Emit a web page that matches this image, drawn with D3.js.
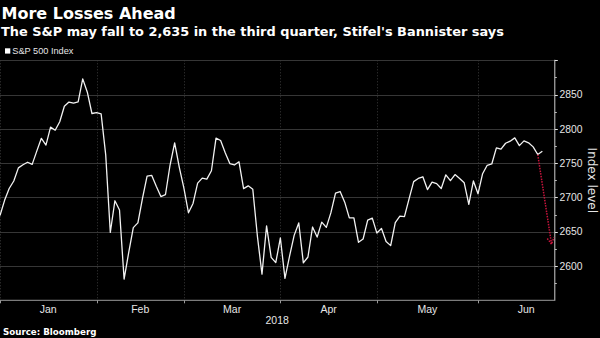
<!DOCTYPE html>
<html><head><meta charset="utf-8">
<script src="https://cdn.jsdelivr.net/npm/d3@7"></script>
<style>html,body{margin:0;padding:0;background:#000;overflow:hidden}</style>
</head><body>
<svg id="chart" width="600" height="338"></svg>
<script>
// ---- data (S&P 500 daily closes, trading days) ----
const dates = [
 "2017-12-29",
 "2018-01-02","2018-01-03","2018-01-04","2018-01-05","2018-01-08","2018-01-09","2018-01-10","2018-01-11","2018-01-12",
 "2018-01-16","2018-01-17","2018-01-18","2018-01-19","2018-01-22","2018-01-23","2018-01-24","2018-01-25","2018-01-26",
 "2018-01-29","2018-01-30","2018-01-31",
 "2018-02-01","2018-02-02","2018-02-05","2018-02-06","2018-02-07","2018-02-08","2018-02-09","2018-02-12","2018-02-13",
 "2018-02-14","2018-02-15","2018-02-16","2018-02-20","2018-02-21","2018-02-22","2018-02-23","2018-02-26","2018-02-27","2018-02-28",
 "2018-03-01","2018-03-02","2018-03-05","2018-03-06","2018-03-07","2018-03-08","2018-03-09","2018-03-12","2018-03-13",
 "2018-03-14","2018-03-15","2018-03-16","2018-03-19","2018-03-20","2018-03-21","2018-03-22","2018-03-23","2018-03-26",
 "2018-03-27","2018-03-28","2018-03-29",
 "2018-04-02","2018-04-03","2018-04-04","2018-04-05","2018-04-06","2018-04-09","2018-04-10","2018-04-11","2018-04-12",
 "2018-04-13","2018-04-16","2018-04-17","2018-04-18","2018-04-19","2018-04-20","2018-04-23","2018-04-24","2018-04-25",
 "2018-04-26","2018-04-27","2018-04-30",
 "2018-05-01","2018-05-02","2018-05-03","2018-05-04","2018-05-07","2018-05-08","2018-05-09","2018-05-10","2018-05-11",
 "2018-05-14","2018-05-15","2018-05-16","2018-05-17","2018-05-18","2018-05-21","2018-05-22","2018-05-23","2018-05-24",
 "2018-05-25","2018-05-29","2018-05-30","2018-05-31",
 "2018-06-01","2018-06-04","2018-06-05","2018-06-06","2018-06-07","2018-06-08","2018-06-11","2018-06-12","2018-06-13",
 "2018-06-14","2018-06-15","2018-06-18","2018-06-19","2018-06-20"
];
const values = [
 2673.61,
 2695.81,2713.06,2723.99,2743.15,2747.71,2751.29,2748.23,2767.56,2786.24,
 2776.42,2802.56,2798.03,2810.30,2832.97,2839.13,2837.54,2839.25,2872.87,
 2853.53,2822.43,2823.81,
 2821.98,2762.13,2648.94,2695.14,2681.66,2581.00,2619.55,2656.00,2662.94,
 2698.63,2731.20,2732.22,2716.26,2701.33,2703.96,2747.30,2779.60,2744.28,2713.83,
 2677.67,2691.25,2720.94,2728.12,2726.80,2738.97,2786.57,2783.02,2765.31,
 2749.48,2747.33,2752.01,2712.92,2716.94,2711.93,2643.69,2588.26,2658.55,
 2612.62,2605.00,2640.87,
 2581.88,2614.45,2644.69,2662.84,2604.47,2613.16,2656.87,2642.19,2663.99,
 2656.30,2677.84,2706.39,2708.64,2693.13,2670.14,2670.29,2634.56,2639.40,
 2666.94,2669.91,2648.05,
 2654.80,2635.67,2629.73,2663.42,2672.63,2671.92,2697.79,2723.07,2727.72,
 2730.13,2711.45,2722.46,2720.13,2712.97,2733.01,2724.44,2733.29,2727.76,
 2721.33,2689.86,2724.01,2705.27,
 2734.62,2746.87,2748.80,2772.35,2770.37,2779.03,2782.00,2786.85,2775.63,
 2782.49,2779.66,2773.75,2762.59,2767.32
];
const monthLabels = ["Jan","Feb","Mar","Apr","May","Jun"];
const monthEnds = ["2017-12-29","2018-01-31","2018-02-28","2018-03-29","2018-04-30","2018-05-31","2018-06-29"];
const yearLabel = "2018";
const yTickLabels = [2600,2650,2700,2750,2800,2850];
const yGridValues = [2600,2650,2700,2750,2800,2850,2900];
const yMinorTicks = [2575,2625,2675,2725,2775,2825,2875];
const yDomain = [2550,2900];
const arrowFromDate = "2018-06-19";
const arrowTo = {date:"2018-06-22", value:2632};
const titleText = "More Losses Ahead";
const subtitleText = "The S&P may fall to 2,635 in the third quarter, Stifel's Bannister says";
const legendText = "S&P 500 Index";
const yAxisTitle = "Index level";
const sourceText = "Source: Bloomberg";

// ---- helpers ----
const parse = d3.utcParse("%Y-%m-%d");
const lastIdx = dates.length - 1;
function idxOf(ds){
  const i = dates.indexOf(ds);
  if (i >= 0) return i;
  const last = parse(dates[lastIdx]);
  const t = parse(ds);
  const extra = d3.utcDays(d3.utcDay.offset(last,1), d3.utcDay.offset(t,1))
      .filter(d => d.getUTCDay() % 6 !== 0).length;
  return lastIdx + extra;
}

const svg = d3.select("#chart");
const W = 600, H = 338;
const plot = {left:0, right:554.3, top:60.3, bottom:300.3};

const x = d3.scaleLinear().domain([0, lastIdx + 2.6]).range([plot.left, plot.right]);
const y = d3.scaleLinear().domain(yDomain).range([plot.bottom, plot.top]);

svg.append("rect").attr("width",W).attr("height",H).attr("fill","#000");

// horizontal gridlines
svg.append("g").selectAll("line").data(yGridValues).join("line")
  .attr("x1",plot.left).attr("x2",plot.right)
  .attr("y1",d=>Math.round(y(d))+0.5).attr("y2",d=>Math.round(y(d))+0.5)
  .attr("stroke","#363636").attr("stroke-width",1);

// vertical dotted gridlines at month ends
const endIdx = monthEnds.map(idxOf);
svg.append("g").selectAll("line").data(endIdx.slice(0, -1)).join("line")
  .attr("x1",d=>Math.round(x(d))+0.5).attr("x2",d=>Math.round(x(d))+0.5)
  .attr("y1",plot.top).attr("y2",plot.bottom)
  .attr("stroke","#3a3a3a").attr("stroke-width",1).attr("stroke-dasharray","1,2");

// bottom axis
svg.append("line").attr("x1",plot.left).attr("x2",plot.right)
  .attr("y1",plot.bottom).attr("y2",plot.bottom)
  .attr("stroke","#9a9a9a").attr("stroke-width",1);
svg.append("g").selectAll("line").data(endIdx.slice(0,-1)).join("line")
  .attr("x1",d=>Math.round(x(d))+0.5).attr("x2",d=>Math.round(x(d))+0.5)
  .attr("y1",plot.bottom).attr("y2",plot.bottom+3)
  .attr("stroke","#9a9a9a");

// month labels centred in each month
svg.append("g").selectAll("text").data(monthLabels).join("text")
  .attr("x",(d,i)=>x((endIdx[i]+endIdx[i+1])/2))
  .attr("y",312.5)
  .attr("text-anchor","middle")
  .attr("fill","#e6e6e6")
  .attr("font-family","Liberation Sans, Arial, sans-serif")
  .attr("font-size","10.5px")
  .text(d=>d);
svg.append("text").attr("x",(plot.left+plot.right)/2).attr("y",324)
  .attr("text-anchor","middle").attr("fill","#e6e6e6")
  .attr("font-family","Liberation Sans, Arial, sans-serif").attr("font-size","10.5px")
  .text(yearLabel);

// right axis
svg.append("line").attr("x1",plot.right+0.5).attr("x2",plot.right+0.5)
  .attr("y1",plot.top-0.5).attr("y2",plot.bottom+0.5)
  .attr("stroke","#cfcfcf").attr("stroke-width",1);
svg.append("g").selectAll("line").data(yGridValues).join("line")
  .attr("x1",plot.right+0.5).attr("x2",plot.right+3.5)
  .attr("y1",d=>Math.round(y(d))+0.5).attr("y2",d=>Math.round(y(d))+0.5)
  .attr("stroke","#e0e0e0");
svg.append("g").selectAll("line").data(yMinorTicks).join("line")
  .attr("x1",plot.right+0.5).attr("x2",plot.right+2.5)
  .attr("y1",d=>Math.round(y(d))+0.5).attr("y2",d=>Math.round(y(d))+0.5)
  .attr("stroke","#bdbdbd");
svg.append("g").selectAll("text").data(yTickLabels).join("text")
  .attr("x",559.5).attr("y",d=>y(d)+3.7)
  .attr("fill","#e6e6e6")
  .attr("font-family","Liberation Sans, Arial, sans-serif")
  .attr("font-size","10.3px")
  .text(d=>d);
svg.append("text")
  .attr("transform",`translate(587.5,${(plot.top+plot.bottom)/2}) rotate(90)`)
  .attr("text-anchor","middle")
  .attr("fill","#e6e6e6")
  .attr("font-family","DejaVu Sans, sans-serif")
  .attr("font-size","12px")
  .text(yAxisTitle);

// the series line
const pts = values.map((v,i)=>({i, v}));
svg.append("path").datum(pts)
  .attr("d", d3.line().x(d=>x(d.i)).y(d=>y(d.v)))
  .attr("fill","none").attr("stroke","#f2f2f2").attr("stroke-width",1.3)
  .attr("stroke-linejoin","round");

// forecast arrow
const ai = idxOf(arrowFromDate);
const x0 = x(ai), y0 = y(values[ai]);
const x1 = x(idxOf(arrowTo.date)), y1 = y(arrowTo.value);
const ang = Math.atan2(y1-y0, x1-x0);
const hl = 7, ha = 0.5;
const arrowColor = "#c8143c";
svg.append("line").attr("x1",x0).attr("y1",y0).attr("x2",x1).attr("y2",y1)
  .attr("stroke",arrowColor).attr("stroke-width",1.5).attr("stroke-dasharray","1.5,1.2");
svg.append("path")
  .attr("d",`M${x1-hl*Math.cos(ang-ha)},${y1-hl*Math.sin(ang-ha)}L${x1},${y1}L${x1-hl*Math.cos(ang+ha)},${y1-hl*Math.sin(ang+ha)}`)
  .attr("fill","none").attr("stroke",arrowColor).attr("stroke-width",1.5).attr("stroke-dasharray","1.5,1.2");

// titles
svg.append("text").attr("x",1.5).attr("y",18.5)
  .attr("fill","#fff").attr("font-family","DejaVu Sans, sans-serif")
  .attr("font-weight","bold").attr("font-size","16px").text(titleText);
svg.append("text").attr("x",1).attr("y",36)
  .attr("fill","#fff").attr("font-family","DejaVu Sans, sans-serif")
  .attr("font-weight","bold").attr("font-size","12.9px").text(subtitleText);

// legend
svg.append("rect").attr("x",5).attr("y",48.3).attr("width",5.3).attr("height",5.3).attr("fill","#fff");
svg.append("text").attr("x",12.3).attr("y",54)
  .attr("fill","#e6e6e6").attr("font-family","Liberation Sans, Arial, sans-serif")
  .attr("font-size","9.2px").text(legendText);

// source
svg.append("text").attr("x",3).attr("y",335)
  .attr("fill","#fff").attr("font-family","DejaVu Sans, sans-serif")
  .attr("font-weight","bold").attr("font-size","8.7px").text(sourceText);
</script>
</body></html>
